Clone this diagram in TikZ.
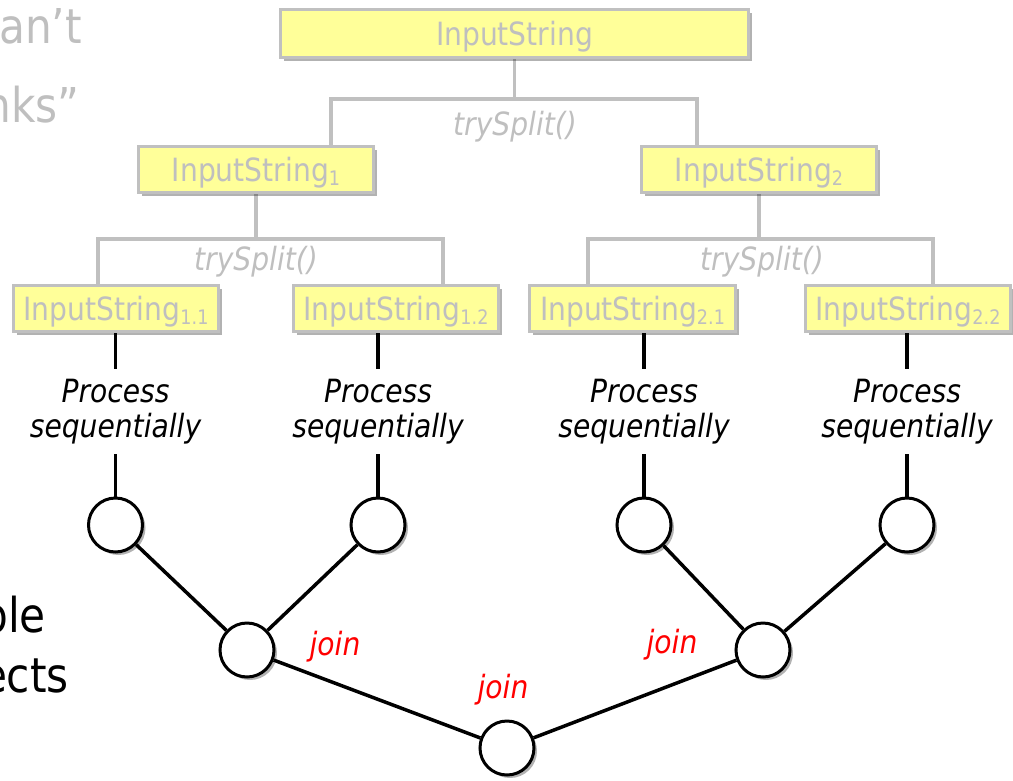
\documentclass[tikz,border=0pt]{standalone}
\usepackage{fontspec}
\setmainfont{DejaVu Sans}[FakeStretch=0.88]
\usetikzlibrary{shadows,backgrounds}
\definecolor{boxfill}{HTML}{FFFF99}
\definecolor{lgray}{HTML}{C0C0C0}
\definecolor{tgray}{HTML}{BFBFBF}
\definecolor{jred}{HTML}{FF0000}
\newcommand{\mysubscr}[1]{\raisebox{-4pt}{\fontsize{20pt}{20pt}\selectfont #1}}
\tikzset{
  boxnode/.style={draw=lgray, line width=3pt, fill=boxfill, text=tgray,
    font=\fontsize{32pt}{36pt}\selectfont, text height=23pt, text depth=0pt,
    inner sep=0pt, minimum height=46pt,
    drop shadow={shadow xshift=3.5pt, shadow yshift=-3.5pt, opacity=0.3, fill=black}},
  gline/.style={draw=lgray, line width=3.5pt},
  splitlbl/.style={text=tgray, font=\itshape\fontsize{32pt}{36pt}\selectfont, inner sep=0pt},
  bline/.style={draw=black, line width=3.5pt},
  proc/.style={font=\itshape\fontsize{32pt}{35pt}\selectfont, align=center, inner xsep=0pt, inner ysep=10pt},
  circ/.style={circle, draw=black, line width=3pt, fill=white, minimum size=54pt, inner sep=0pt,
    drop shadow={shadow xshift=3pt, shadow yshift=-3pt, opacity=0.3, fill=black}},
  joinlbl/.style={text=jred, font=\itshape\fontsize{32pt}{36pt}\selectfont, inner sep=0pt},
  slidetxt/.style={font=\fontsize{48pt}{52pt}\selectfont, inner sep=0pt, anchor=base east}
}
\begin{document}
\begin{tikzpicture}[x=1pt, y=-1pt]
\useasboundingbox (0,0) rectangle (1013,780);

% cropped slide text on the left
\node[slidetxt, text=tgray] (s1) at (82,43) {an’t};
\node[slidetxt, text=tgray] (s2) at (80,122) {nks”};
\node[slidetxt, text=black] (s3) at (46,632) {ple};
\node[slidetxt, text=black] (s4) at (69,692) {ects};

% boxes
\node[boxnode, minimum width=468pt, minimum height=48pt] (top) at (514.5,33.5) {InputString};
\node[boxnode, minimum width=235pt] (b1) at (256,169.5) {InputString\mysubscr{1}};
\node[boxnode, minimum width=235pt] (b2) at (759,169.5) {InputString\mysubscr{2}};
\node[boxnode, minimum width=205pt] (b11) at (116,308.5) {InputString\mysubscr{1.1}};
\node[boxnode, minimum width=205pt] (b12) at (396,308.5) {InputString\mysubscr{1.2}};
\node[boxnode, minimum width=206pt] (b21) at (632.5,308.5) {InputString\mysubscr{2.1}};
\node[boxnode, minimum width=205pt] (b22) at (908,308.5) {InputString\mysubscr{2.2}};

% split bar coordinates
\coordinate (aL) at (331,99);
\coordinate (aR) at (697,99);
\coordinate (cL) at (98,239);
\coordinate (cR) at (443,239);
\coordinate (dL) at (588,239);
\coordinate (dR) at (933,239);

% trySplit labels
\node[splitlbl] (t0) at (515,127) {trySplit()};
\node[splitlbl] (t1) at (256,262) {trySplit()};
\node[splitlbl] (t2) at (762,262) {trySplit()};

% process labels
\node[proc] (p11) at (115.5,411.6) {Process\\sequentially};
\node[proc] (p12) at (378,411.6) {Process\\sequentially};
\node[proc] (p21) at (644,411.6) {Process\\sequentially};
\node[proc] (p22) at (907,411.6) {Process\\sequentially};

% circles
\node[circ] (c11) at (115.5,525) {};
\node[circ] (c12) at (378,525) {};
\node[circ] (c21) at (644,525) {};
\node[circ] (c22) at (907,525) {};
\node[circ] (jL) at (247,650) {};
\node[circ] (jR) at (763,650) {};
\node[circ] (jB) at (507,748) {};

% join labels
\node[joinlbl] (jl1) at (335,647) {join};
\node[joinlbl] (jl2) at (672,645) {join};
\node[joinlbl] (jl3) at (503,690) {join};

\begin{scope}[on background layer]
  \draw[gline] (top.south) -- (top.south |- aL);
  \draw[gline] (b1.north -| aL) -- (aL) -- (aR) -- (b2.north -| aR);
  \draw[gline] (b1.south) -- (b1.south |- cL);
  \draw[gline] (b11.north -| cL) -- (cL) -- (cR) -- (b12.north -| cR);
  \draw[gline] (b2.south) -- (b2.south |- dL);
  \draw[gline] (b21.north -| dL) -- (dL) -- (dR) -- (b22.north -| dR);

  \draw[bline] (b11.south -| p11.north) -- (p11.north);
  \draw[bline] (b12.south -| p12.north) -- (p12.north);
  \draw[bline] (b21.south -| p21.north) -- (p21.north);
  \draw[bline] (b22.south -| p22.north) -- (p22.north);
  \draw[bline] (p11.south) -- (c11);
  \draw[bline] (p12.south) -- (c12);
  \draw[bline] (p21.south) -- (c21);
  \draw[bline] (p22.south) -- (c22);
  \draw[bline] (c11) -- (jL);
  \draw[bline] (c12) -- (jL);
  \draw[bline] (c21) -- (jR);
  \draw[bline] (c22) -- (jR);
  \draw[bline] (jL) -- (jB);
  \draw[bline] (jR) -- (jB);
\end{scope}
\end{tikzpicture}
\end{document}
